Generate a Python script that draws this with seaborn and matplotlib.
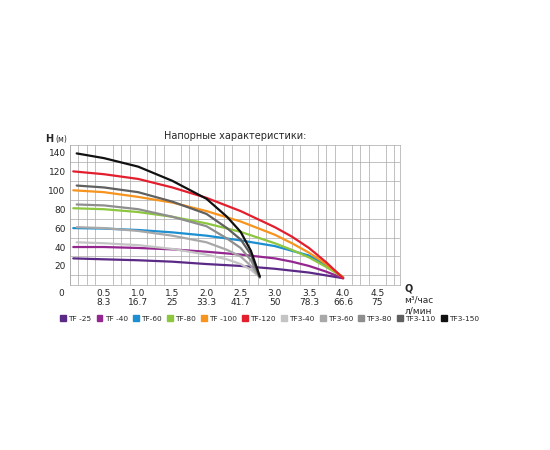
import numpy as np
import matplotlib
matplotlib.use("Agg")
import matplotlib.pyplot as plt
import seaborn as sns
from matplotlib.patches import Patch

# Значения кривых
q_tf = [0.05, 0.5, 1.0, 1.5, 2.0, 2.5, 3.0, 3.25, 3.5, 3.75, 4.0]
tf_25 = [28, 27, 26, 24.5, 22, 20, 17, 15, 13, 10, 7]
tf_40 = [40, 40, 39, 37.5, 35, 32, 28, 24.5, 20, 14, 7]
tf_60 = [60, 59.5, 58, 55.5, 52, 47, 41, 36, 31, 21, 8]
tf_80 = [81, 80, 77, 72, 65, 56, 44, 37, 29, 19, 8]
tf_100 = [100, 98, 93, 87, 78, 67, 53, 44, 34, 22, 8]
tf_120 = [120, 117, 112, 103, 92, 78, 61, 51, 39, 24, 7]

q_tf3 = [0.1, 0.5, 1.0, 1.5, 2.0, 2.3, 2.5, 2.65, 2.78]
tf3_40 = [45, 44, 42, 38, 32, 27, 22, 16, 8]
tf3_60 = [61, 60, 57, 52, 45, 37, 30, 20, 8]
tf3_80 = [85, 84, 80, 72, 62, 49, 39, 26, 8]
tf3_110 = [105, 103, 98, 88, 75, 60, 48, 32, 8]
tf3_150 = [139, 134, 125, 110, 91, 72, 56, 36, 9]

names = ["TF -25", "TF -40", "TF-60", "TF-80", "TF -100", "TF-120",
         "TF3-40", "TF3-60", "TF3-80", "TF3-110", "TF3-150"]
series = [tf_25, tf_40, tf_60, tf_80, tf_100, tf_120,
          tf3_40, tf3_60, tf3_80, tf3_110, tf3_150]
colors = ["#5b2a86", "#93278f", "#1b8fd1", "#8dc63f", "#f7941d", "#e31e2d",
          "#c4c4c4", "#a8a8a8", "#8e8e8e", "#606060", "#111111"]

xticks = [0.5, 1.0, 1.5, 2.0, 2.5, 3.0, 3.5, 4.0, 4.5]
lmin = ["8.3", "16.7", "25", "33.3", "41.7", "50", "78.3", "66.6", "75"]

sns.set_theme(style="white")
plt.rcParams['font.family'] = ['DejaVu Sans']

fig = plt.figure(figsize=(5.5, 4.5), dpi=100)
ax = fig.add_axes([0.127, 0.367, 0.6, 0.311])

for i, (nm, ys, c) in enumerate(zip(names, series, colors)):
    xs = q_tf if i < 6 else q_tf3
    sns.lineplot(x=xs, y=ys, ax=ax, color=c, lw=1.6, zorder=3 + i)

ax.set_xlim(0, 4.83)
ax.set_ylim(0, 148)
ax.set_xticks(np.arange(0, 4.83, 0.125), minor=True)
ax.set_yticks(np.arange(0, 148, 10), minor=True)
ax.grid(which="minor", color="#a8a8a8", lw=0.5)
ax.set_yticks(range(20, 141, 20))
ax.set_yticklabels([str(v) for v in range(20, 141, 20)], fontsize=6.5)
ax.set_xticks(xticks)
ax.set_xticklabels(["{}\n{}".format(x, l) for x, l in zip(xticks, lmin)], fontsize=6.5, linespacing=1.0)
ax.tick_params(length=0, pad=3)
for s in ax.spines.values():
    s.set_color("#a8a8a8")
    s.set_linewidth(0.5)
ax.text(-0.12, -12, "0", fontsize=6.5, ha="center")

ax.set_title("Напорные характеристики:", fontsize=7, pad=4)
fig.text(0.082, 0.685, "H", fontsize=7, fontweight="bold")
fig.text(0.1, 0.685, "(м)", fontsize=5.5)
fig.text(0.735, 0.352, "Q", fontsize=7, fontweight="bold")
fig.text(0.735, 0.328, "м³/час", fontsize=6.5)
fig.text(0.735, 0.303, "л/мин", fontsize=6.5)

handles = [Patch(color=c, label=n) for n, c in zip(names, colors)]
fig.legend(handles=handles, loc="center", bbox_to_anchor=(0.49, 0.292), ncol=11,
           frameon=False, fontsize=5.3, handlelength=0.8, handleheight=0.8,
           handletextpad=0.3, columnspacing=0.7)

plt.savefig("out.png", dpi=100)
